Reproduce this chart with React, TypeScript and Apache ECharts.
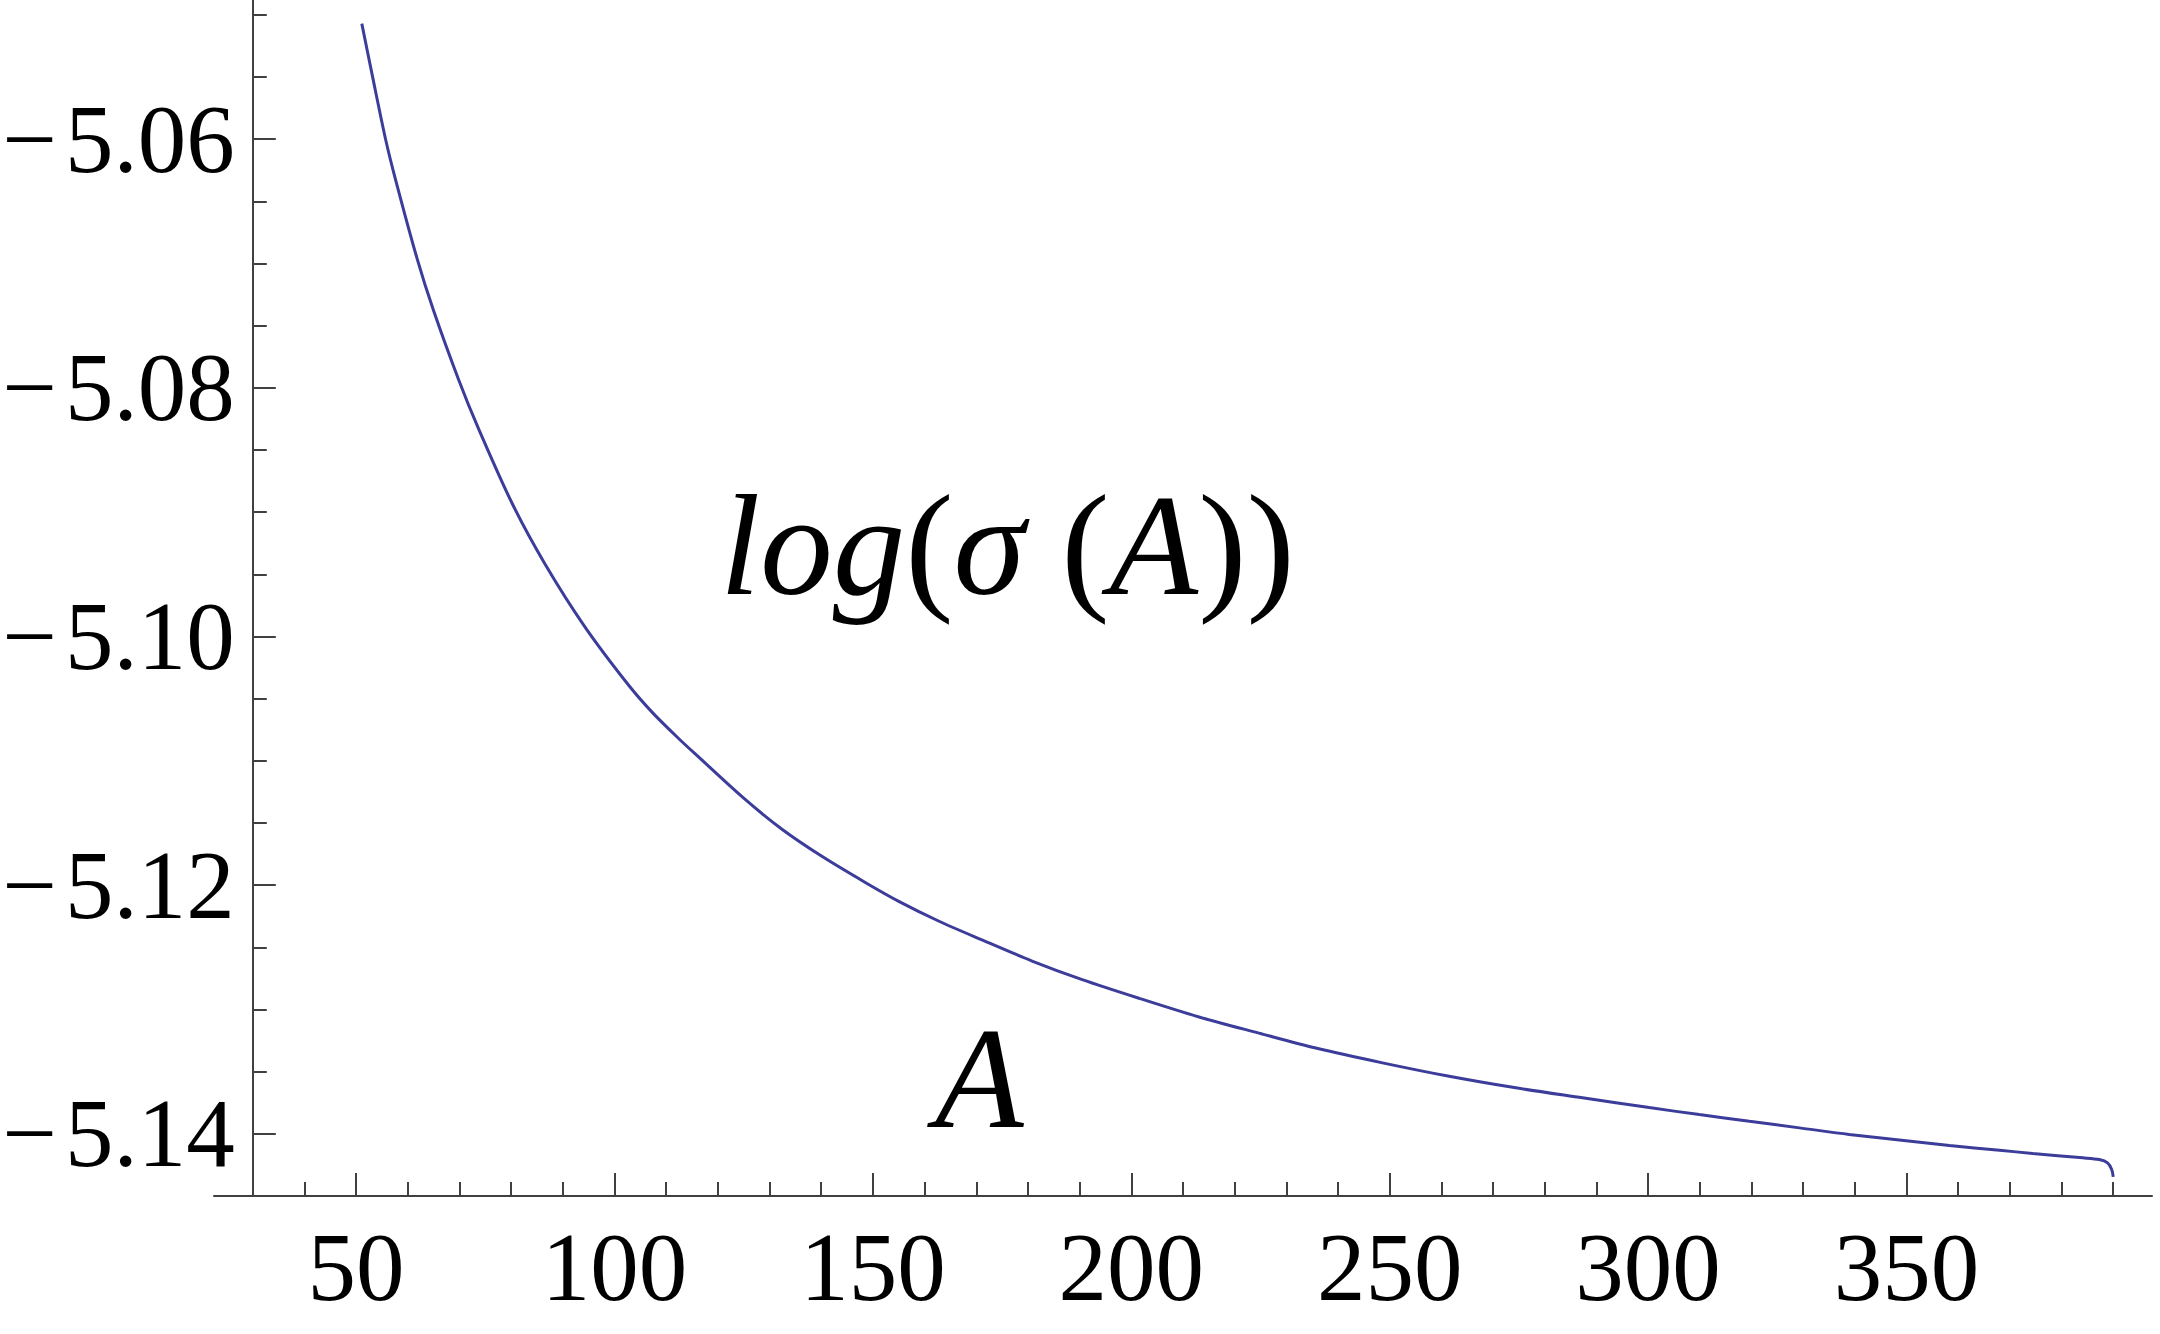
import React, { useEffect, useRef } from "react";
import * as echarts from "echarts";

// A values (x) and log(sigma(A)) values (y)
const aValues = [
  51.1, 53.1, 55.7, 57.6, 61.8, 65.0, 69.8, 73.7, 80.2, 86.6, 94.4, 102.7, 107.3, 112.4,
  116.3, 125.0, 132.4, 140.2, 148.6, 155.0, 162.8, 171.1, 180.8, 190.5, 201.5, 213.1,
  224.7, 235.7, 248.6, 261.5, 274.4, 287.3, 300.2, 309.9, 319.6, 329.3, 338.9, 348.6,
  358.3, 368.0, 374.4, 384.1, 387.3, 388.9, 389.7, 390.0,
];
const logSigma = [
  -5.0507, -5.0548, -5.06, -5.0632, -5.0696, -5.0738, -5.0793, -5.0833, -5.0893, -5.0942,
  -5.0993, -5.1039, -5.1061, -5.1082, -5.1097, -5.113, -5.1155, -5.1177, -5.1198, -5.1213,
  -5.1229, -5.1244, -5.1261, -5.1276, -5.1291, -5.1306, -5.1319, -5.1331, -5.13429,
  -5.13537, -5.1363, -5.1371, -5.13789, -5.13845, -5.13899, -5.13952, -5.14005, -5.1405,
  -5.14094, -5.14132, -5.14158, -5.14193, -5.14207, -5.14233, -5.14287, -5.14346,
];

const xMajorTicks = [50, 100, 150, 200, 250, 300, 350];
const xMinorTicks = [
  40, 60, 70, 80, 90, 110, 120, 130, 140, 160, 170, 180, 190, 210, 220, 230, 240, 260, 270,
  280, 290, 310, 320, 330, 340, 360, 370, 380, 390,
];
const yMajorTicks = [-5.14, -5.12, -5.1, -5.08, -5.06];
const yMinorTicks = [
  -5.135, -5.13, -5.125, -5.115, -5.11, -5.105, -5.095, -5.09, -5.085, -5.075, -5.07,
  -5.065, -5.055, -5.05,
];

const X_MIN = 22.5;
const X_MAX = 397.5;
const Y_MIN = -5.145;
const Y_MAX = -5.0488;

const AXIS_COLOR = "#404040";
const LINE_COLOR = "#3c3c9a";
const SERIF = "Liberation Serif";

export default function App() {
  const ref = useRef<HTMLDivElement>(null);

  useEffect(() => {
    if (!ref.current) return;
    const chart = echarts.init(ref.current, null, { renderer: "svg" });
    const fmtY = (v: number) => "\u2212\u200a" + Math.abs(v).toFixed(2);

    const baseX = {
      type: "value",
      min: X_MIN,
      max: X_MAX,
      position: "bottom",
      splitLine: { show: false },
    };
    const baseY = {
      type: "value",
      min: Y_MIN,
      max: Y_MAX,
      position: "left",
      offset: -38.8,
      splitLine: { show: false },
    };

    chart.setOption({
      animation: false,
      backgroundColor: "#ffffff",
      grid: {
        left: 214,
        top: 0,
        width: 1938,
        height: 1196,
        containLabel: false,
        outerBoundsMode: "none",
      },
      xAxis: [
        {
          ...baseX,
          axisLine: { show: true, lineStyle: { color: AXIS_COLOR, width: 2 } },
          axisTick: {
            show: true,
            inside: true,
            length: 23,
            customValues: xMajorTicks,
            lineStyle: { color: AXIS_COLOR, width: 2 },
          },
          axisLabel: {
            show: true,
            customValues: xMajorTicks,
            margin: 23,
            fontSize: 97,
            fontFamily: SERIF,
            color: "#000",
          },
        },
        {
          ...baseX,
          axisLine: { show: false },
          axisTick: {
            show: true,
            inside: true,
            length: 14,
            customValues: xMinorTicks,
            lineStyle: { color: AXIS_COLOR, width: 2 },
          },
          axisLabel: { show: false },
        },
      ],
      yAxis: [
        {
          ...baseY,
          axisLine: { show: true, lineStyle: { color: AXIS_COLOR, width: 2 } },
          axisTick: {
            show: true,
            inside: true,
            length: 23,
            customValues: yMajorTicks,
            lineStyle: { color: AXIS_COLOR, width: 2 },
          },
          axisLabel: {
            show: true,
            customValues: yMajorTicks,
            margin: 18,
            fontSize: 97,
            fontFamily: SERIF,
            color: "#000",
            formatter: fmtY,
          },
        },
        {
          ...baseY,
          axisLine: { show: false },
          axisTick: {
            show: true,
            inside: true,
            length: 14,
            customValues: yMinorTicks,
            lineStyle: { color: AXIS_COLOR, width: 2 },
          },
          axisLabel: { show: false },
        },
      ],
      series: [
        {
          type: "line",
          xAxisIndex: 0,
          yAxisIndex: 0,
          data: aValues.map((a, i) => [a, logSigma[i]]),
          showSymbol: false,
          symbol: "none",
          smooth: 0.3,
          lineStyle: { color: LINE_COLOR, width: 3 },
          silent: true,
        },
      ],
      graphic: [
        {
          type: "text",
          x: 720,
          y: 545,
          style: {
            text: "{i|log}{n|(}{i|\u03c3}{n| (}{i|A}{n|))}",
            fill: "#000",
            align: "left",
            verticalAlign: "middle",
            rich: {
              i: { fontFamily: SERIF, fontStyle: "italic", fontSize: 145, fill: "#000" },
              n: { fontFamily: SERIF, fontStyle: "normal", fontSize: 145, fill: "#000" },
            },
          },
        },
        {
          type: "text",
          x: 935,
          y: 1078,
          style: {
            text: "A",
            fill: "#000",
            font: "italic 145px 'Liberation Serif'",
            align: "left",
            verticalAlign: "middle",
          },
        },
      ],
    });

    return () => chart.dispose();
  }, []);

  return (
    <div
      ref={ref}
      style={{ position: "absolute", left: 0, top: 0, width: 2160, height: 1334 }}
    />
  );
}
